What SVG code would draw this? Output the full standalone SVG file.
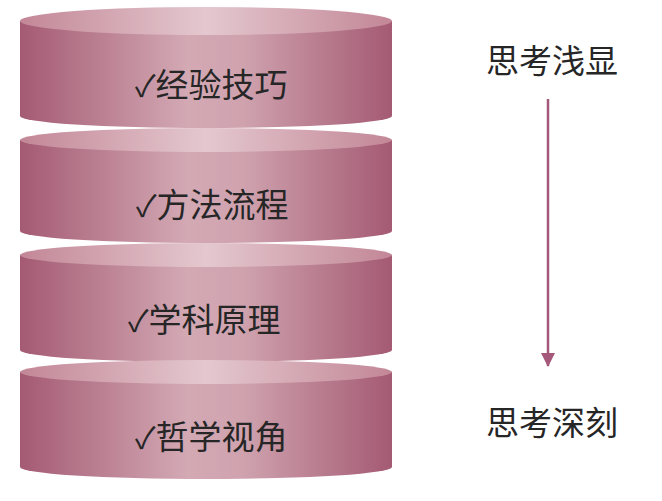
<svg xmlns="http://www.w3.org/2000/svg" width="662" height="501" viewBox="0 0 662 501">
  <defs>
    <linearGradient id="side" x1="0" y1="0" x2="1" y2="0">
      <stop offset="0" stop-color="#a45a73"/>
      <stop offset="0.45" stop-color="#d3a9b4"/>
      <stop offset="0.6" stop-color="#cfa2ae"/>
      <stop offset="1" stop-color="#a45a73"/>
    </linearGradient>
    <linearGradient id="top" x1="0" y1="0" x2="1" y2="0">
      <stop offset="0" stop-color="#c38797"/>
      <stop offset="0.5" stop-color="#e4c8cf"/>
      <stop offset="1" stop-color="#c38797"/>
    </linearGradient>
    <marker id="arrow" viewBox="0 0 14 14" refX="13" refY="7" markerWidth="14" markerHeight="14" markerUnits="userSpaceOnUse" orient="auto">
      <path d="M0,0 L14,7 L0,14 Z" fill="#a5587a"/>
    </marker>
  </defs>
  <style>
    .side { fill: url(#side); }
    .top { fill: url(#top); }
    .lbl { font-family: "Noto Sans CJK SC", "Noto Sans", sans-serif; font-size: 33px; fill: #262626; }
    .chk { font-family: "Noto Sans CJK SC", "DejaVu Sans", sans-serif; font-size: 30px; }
    .conn { stroke: #a5587a; stroke-width: 2.5; fill: none; }
  </style>
  <rect width="662" height="501" fill="#ffffff"/>

  <g id="layer-1">
    <path class="side" d="M20,21 L20,116 A186,12 0 0 0 392,116 L392,21 Z"/>
    <ellipse class="top" cx="206" cy="21" rx="186" ry="14"/>
    <text class="lbl" x="135" y="97"><tspan class="chk">✓</tspan>经验技巧</text>
  </g>
  <g id="layer-2">
    <path class="side" d="M20,140 L20,231 A186,12 0 0 0 392,231 L392,140 Z"/>
    <ellipse class="top" cx="206" cy="140" rx="186" ry="12"/>
    <text class="lbl" x="136" y="217"><tspan class="chk">✓</tspan>方法流程</text>
  </g>
  <g id="layer-3">
    <path class="side" d="M20,255 L20,350 A186,12 0 0 0 392,350 L392,255 Z"/>
    <ellipse class="top" cx="206" cy="255" rx="186" ry="12"/>
    <text class="lbl" x="128" y="332"><tspan class="chk">✓</tspan>学科原理</text>
  </g>
  <g id="layer-4">
    <path class="side" d="M20,372 L20,467 A186,12 0 0 0 392,467 L392,372 Z"/>
    <ellipse class="top" cx="206" cy="372" rx="186" ry="12"/>
    <text class="lbl" x="135" y="449"><tspan class="chk">✓</tspan>哲学视角</text>
  </g>

  <g id="label-shallow">
    <text class="lbl" x="486" y="73">思考浅显</text>
  </g>
  <g id="label-deep">
    <text class="lbl" x="486" y="435">思考深刻</text>
  </g>

  <g id="connectors">
    <line class="conn" x1="548" y1="99" x2="548" y2="366" marker-end="url(#arrow)"/>
  </g>
</svg>
